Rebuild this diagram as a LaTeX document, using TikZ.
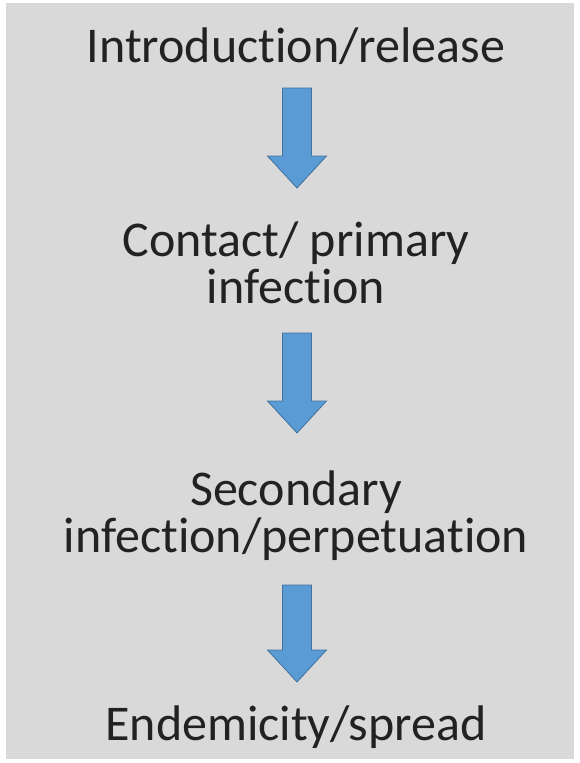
\documentclass[tikz,border=0pt]{standalone}
\usepackage{fontspec}
\setmainfont{Carlito}[Ligatures={NoCommon}]
\usetikzlibrary{calc}
\definecolor{bg}{HTML}{D9D9D9}
\definecolor{arrowfill}{HTML}{5B9BD5}
\definecolor{arrowedge}{HTML}{41719C}
\definecolor{txt}{HTML}{222222}
\tikzset{
  steptext/.style={font=\fontsize{50}{47}\selectfont, text=txt, align=center, inner sep=0pt, anchor=base},
  blockarrow/.style={draw=arrowedge, fill=arrowfill, line width=0.8pt, line join=miter,
    to path={let \p1=(\tikztostart), \p2=(\tikztotarget) in
      (\x1-14.5pt,\y1) -- (\x1+14.5pt,\y1) -- (\x1+14.5pt,\y2+32pt) -- (\x1+29.5pt,\y2+32pt)
      -- (\x1,\y2) -- (\x1-29.5pt,\y2+32pt) -- (\x1-14.5pt,\y2+32pt) -- cycle}}
}
\begin{document}
\begin{tikzpicture}[x=1pt,y=-1pt]
\useasboundingbox (0,0) rectangle (580,763);
\fill[white] (0,0) rectangle (580,763);
\fill[bg] (6,3) rectangle (574,759);
% base anchor of a multi-line node is the baseline of its last line
\node[steptext] (intro) at (296,62) {Introduction/release};
\node[steptext] (contact) at (296,303) {Contact/ primary\\infection};
\node[steptext] (secondary) at (296,552) {Secondary\\infection/perpetuation};
\node[steptext] (endemic) at (296,740) {Endemicity/spread};
\draw[blockarrow] ([shift={(1pt,-26pt)}]intro.base) to ([shift={(1pt,115pt)}]contact.base);
\draw[blockarrow] ([shift={(1pt,-30pt)}]contact.base) to ([shift={(1pt,119pt)}]secondary.base);
\draw[blockarrow] ([shift={(1pt,-33pt)}]secondary.base) to ([shift={(1pt,58pt)}]endemic.base);
\end{tikzpicture}
\end{document}
